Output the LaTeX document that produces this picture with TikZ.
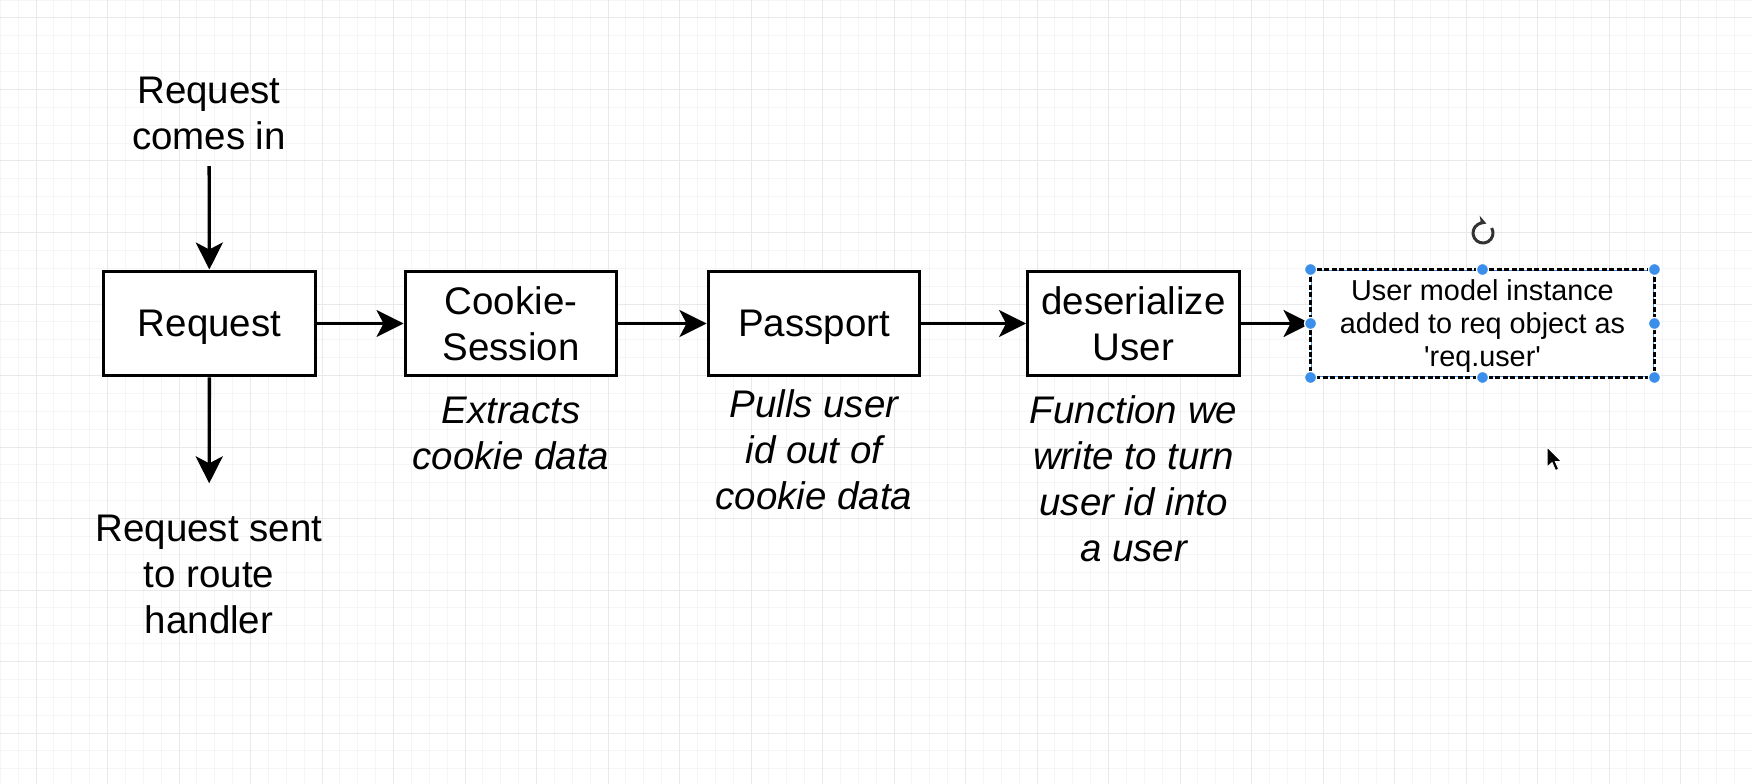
\documentclass[tikz,border=0pt]{standalone}
\usepackage{fontspec}
\setmainfont{Liberation Sans}
\usetikzlibrary{positioning, arrows.meta}

\definecolor{gridminor}{HTML}{F5F5F5}
\definecolor{gridmajor}{HTML}{E9E9E9}
\definecolor{handleblue}{HTML}{3B8EEA}

\newcommand{\flowfont}{\fontsize{21.9pt}{26.2pt}\selectfont}
\newcommand{\notefont}{\fontsize{16.4pt}{18.8pt}\selectfont}

\tikzset{
  stepbox/.style={draw, line width=0.06cm, fill=white, minimum width=4.24cm,
    minimum height=2.1cm, inner sep=0pt, align=center, font=\flowfont},
  userbox/.style={draw=handleblue, line width=0.02cm, fill=white, minimum width=6.86cm,
    minimum height=2.14cm, inner sep=0pt, text depth=0pt, align=center, font=\notefont},
  plain/.style={align=center, font=\flowfont},
  caption/.style={align=center, font=\flowfont\itshape},
  flow/.style={line width=0.066cm, -{Stealth[length=0.54cm, width=0.54cm, inset=0.14cm]}},
  handle/.style={fill=handleblue, draw=white, line width=0.025cm},
}

\begin{document}
\begin{tikzpicture}[x=0.02cm, y=-0.02cm]
  \fill[white] (0,0) rectangle (1752,784);
  \useasboundingbox (0,0) rectangle (1752,784);
  % Grid
  \foreach \i in {0,...,98} {
    \draw[gridminor, line width=0.02cm] ({0.25+17.875*\i},0) -- ++(0,784);
  }
  \foreach \j in {0,...,43} {
    \draw[gridminor, line width=0.02cm] (0,{0.125+17.875*\j}) -- ++(1752,0);
  }
  \foreach \k in {0,...,23} {
    \draw[gridmajor, line width=0.02cm] ({36+71.5*\k},0) -- ++(0,784);
  }
  \foreach \k in {0,...,10} {
    \draw[gridmajor, line width=0.02cm] (0,{18+71.5*\k}) -- ++(1752,0);
  }

  % Steps
  \node[stepbox, text depth=0pt] (request) at (209.5,323.5) {Request};
  \node[stepbox] (cookie) at (511,323.5) {Cookie-\\Session};
  \node[stepbox, text depth=0pt] (passport) at (814,323.5) {Passport};
  \node[stepbox] (deserialize) at (1133.5,323.5) {deserialize\\User};
  \node[userbox] (usermodel) at (1482.5,323.5)
    {User model instance\\added to req object as\\\textquotesingle req.user\textquotesingle};
  \draw[line width=0.05cm, dash pattern=on 0.1cm off 0.05cm]
    (usermodel.north west) rectangle (usermodel.south east);

  % Texts
  \node[plain] (incoming) at (209,113) {Request\\comes in};
  \node[plain] (routed) at (209,574.5) {Request sent\\to route\\handler};
  \node[caption] (extracts) at (511,433.5) {Extracts\\cookie data};
  \node[caption] (pulls) at (814,449.5) {Pulls user\\id out of\\cookie data};
  \node[caption] (turns) at (1133.5,478.5) {Function we\\write to turn\\user id into\\a user};

  % Arrows
  \draw[flow, shorten <=0.21cm] (incoming) -- (request);
  \draw[flow, shorten >=0.51cm] (request) -- (routed);
  \draw[flow] (request) -- (cookie);
  \draw[flow] (cookie) -- (passport);
  \draw[flow] (passport) -- (deserialize);
  \draw[flow] (deserialize) -- (usermodel);

  % Selection handles
  \foreach \a in {north west, north, north east, east, south east, south, south west, west} {
    \draw[handle] (usermodel.\a) circle (6);
  }
  % Rotate icon
  \draw[black!80, line width=0.06cm, -{Stealth[length=0.18cm, width=0.2cm]}]
    (1483,233) ++(-30:10) arc (-30:290:10);
  % Mouse pointer
  \begin{scope}[shift={(1547,447)}, scale=1.12]
    \draw[fill=black, draw=white, line width=0.02cm]
      (0,0) -- (0,18) -- (4.5,14) -- (7.5,21) -- (10.5,19.8) -- (7.5,13) -- (13,13) -- cycle;
  \end{scope}
\end{tikzpicture}
\end{document}
